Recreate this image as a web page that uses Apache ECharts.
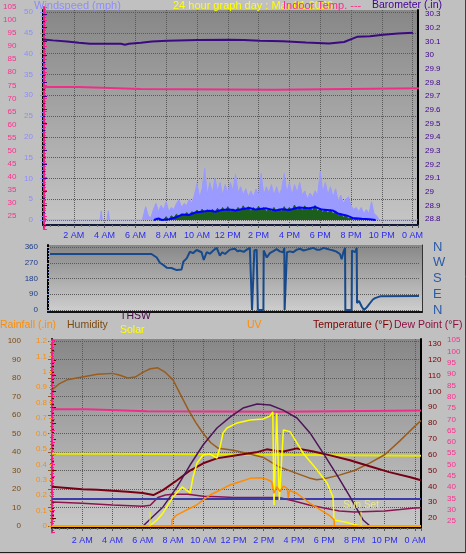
<!DOCTYPE html>
<html><head><meta charset="utf-8">
<script src="https://cdn.jsdelivr.net/npm/echarts/dist/echarts.min.js"></script>
<style>html,body{margin:0;padding:0;background:#c0c0c0;}#c{width:466px;height:554px;}</style>
</head><body><div id="c"></div><script>
// ---------- TOP PANEL DATA (hours since midnight) ----------
const gustEarlyHours = [0, 3.7, 3.78, 3.86, 4.16, 4.24, 4.32, 6.45];
const gustEarlyMph   = [0, 0, 2.2, 0, 0, 2.2, 0, 0];
const gustStart = 6.5, gustStepMin = 10;
const gustMph = [0,3.2,1,0.5,2.5,4,2,3.5,2.5,4.4, 2,3,2.5,4,4.8,3,4,3.5,5,4,
  6,8.8,5.5,7.5,12.4,6,9,6.5,10,7, 9,6,8.5,6.5,9,7,11,6.5,8,6,
  7.5,5.5,7,5.5,7.5,6,11.2,6,8,6.5, 8.5,6,8,6,7.5,11.2,6.5,9,6,8.5,
  6.5,9,6,7,5,6.5,5.5,7,6,11.6, 6.5,9,6,8,5.5,7.5,4.5,6,4,5,
  5.6,3.5,2.5,3,2,3,1.5,2.5,1.5,4.4, 1.5,1,0,0];
const windStart = 7.33, windStepMin = 10;
const windMph = [0.5,0,0,0,0.8,0,1.0,0.5,1.4,0.8,1.5,1.0,1.8,1.2,2.0,1.5,2.4,1.6,2.6,1.8,
  2.5,1.7,2.6,1.8,2.8,2.0,3.0,2.0,3.2,2.0,2.7,2.1,3.0,2.2,3.4,2.4,3.2,2.0,3.0,2.2,
  3.3,2.2,3.0,2.0,2.8,2.0,3.0,2.0,2.7,2.0,3.2,2.1,3.0,2.2,3.6,2.3,3.2,2.2,3.4,2.4,
  3.0,2.2,3.5,2.0,2.8,1.8,2.6,1.6,2.5,1.4,2.2,1.0,1.6,0.6,1.0,0.3,0.6,0,0.4,0,0.3,0];
const avgHours = [7.2,7.5,7.7,8.2,8.6,9.05,9.48,9.9,10.3,10.8,11.2,11.6,12.1,12.5,12.9,13.4,13.8,14.5,15.1,15.5,16.0,16.6,17.3,17.7,18.1,18.8,19.2,19.7,20.1,20.7,21.2,21.6];
const avgMph   = [0,0.4,0,0.2,0.6,1.3,1.2,1.8,2.0,2.2,2.0,2.4,2.5,2.3,2.6,2.9,2.5,2.8,2.3,2.6,2.4,3.0,2.8,3.1,2.5,2.3,1.5,1.1,0.5,0.3,0.2,0];
const baroHours = [0,0.65,1.56,2.34,3.05,5.06,5.32,5.58,6.36,7.08,8.05,10.06,12.08,13.05,14.09,15.58,17.08,18.57,19.55,20.39,21.23,22.08,23.05,24.03];
const baroInHg  = [30.114,30.107,30.099,30.09,30.082,30.082,30.075,30.082,30.09,30.098,30.104,30.11,30.112,30.11,30.105,30.1,30.092,30.085,30.095,30.133,30.138,30.148,30.157,30.162];
const indoorHours = [0,2.3,2.35,4.3,4.35,6.3,6.35,15,15.05,24.4];
const indoorTempF = [74.4,74.4,74.0,74.0,73.6,73.6,73.3,73.3,73.9,73.9];

// ---------- MIDDLE PANEL: wind direction ----------
const dirHours = [0,6.6,6.94,7.15,7.37,7.59,7.9,8.24,8.56,8.67,8.89,9.1,9.3,9.54,9.86,10.0,10.19,10.4,10.62,10.84,11.05,11.2,11.38,11.7,12.03,12.2,12.35,12.6,12.8,13.0,13.12,13.14,13.27,13.29,13.44,13.5,13.52,13.88,13.9,14.1,14.3,14.5,14.74,14.95,15.17,15.24,15.26,15.39,15.41,15.6,15.82,16.05,16.26,16.5,16.7,16.9,17.13,17.35,17.56,17.8,18.0,18.2,18.43,18.6,18.86,18.97,19.08,19.19,19.21,19.62,19.64,19.84,19.95,19.97,20.1,20.2,20.27,20.42,20.6,20.82,21.0,21.14,21.47,24];
const dirDegrees = [320,320,300,270,257,242,240,228,232,276,295,333,325,343,330,286,330,322,340,356,310,330,320,345,350,335,340,332,345,355,352,0,0,340,345,345,0,0,340,300,325,335,348,335,330,355,0,0,330,335,330,345,350,340,345,350,355,345,345,355,350,345,340,335,320,290,330,355,0,0,340,330,355,40,52,45,20,0,15,40,60,68,78,80];
const compass = {0:'N', 90:'E', 180:'S', 270:'W', 360:'N'};

// ---------- BOTTOM PANEL ----------
const humHours = [0,0.5,1,2,3,4,4.5,5,5.5,6,6.5,7,7.5,8,8.5,9,9.5,10,10.5,11,11.5,12,13,14,15,16,17,17.5,18,19,20,21,22,23,23.5,24,24.4];
const humidity = [73.5,77,79,80.5,82,82.5,81.5,80,80.5,83,85,85.5,83,79,71,63,56,50,45,42,41.5,41,39,37,32,29,26,25,25.5,27.5,30,34,38.5,46,50,54,57];
const inHumHours = [0,4.19,4.2,24.4];
const inHumidity = [39,39,38,38];
const tempHours = [0,1,2,3,4,5,6,6.7,7.34,8.27,9.13,10,10.9,12.2,13.5,14.2,14.8,15.3,16.2,17.3,18.4,19.7,21,22.3,23.7,24.4];
const temperatureF = [39.8,39,38.2,37.8,37.3,36.6,35.8,34.5,37.6,43.9,50,54.6,57.7,59.6,61.5,63.4,62.5,62,64,62,59.6,56.5,52.7,49,45.8,43.9];
const dewHours = [0,2,4,6,6.5,7,7.5,8,9,10,11,12,13,14,15,16,17,18,19,20,21,22,23,24,24.4];
const dewPointF = [30.1,29.4,28.2,27.5,28,33,34.5,35,35,33.8,33.5,33,33,33,32.9,30.7,28.2,26.3,24.4,23.8,24.1,24.4,25.3,26.3,26.5];
const freezingF = 32;
const thswHours = [6.02,7.34,8.27,9.13,9.99,10.91,11.77,12.63,13.56,14.42,15.28,16.2,17.06,17.92,18.85,19.71,20.57,21.03];
const thswLevel = [0,101,207,323,429,519,577,625,646,641,614,572,493,387,270,154,32,0];
const solarHours = [0,6.45,6.94,7.34,8.0,8.6,9.13,9.33,9.59,9.99,10.45,10.91,11.11,11.31,11.57,12.24,13.1,13.95,14.42,14.6,14.68,14.86,15.03,15.3,15.74,16.6,17.53,18.19,18.58,18.65,19.38,20.37,24.4];
const solarWm2 = [0,0,32,69,154,207,175,260,334,376,381,360,418,493,519,546,561,567,583,604,111,599,138,508,500,387,297,228,154,32,21,0,0];
const uvHours = [0,7.92,7.93,8.24,8.69,9.13,9.57,10.0,10.45,10.89,11.33,11.77,12.43,13.1,13.76,14.2,14.53,14.68,14.86,15.08,15.3,15.56,15.63,15.7,16.18,16.62,17.06,17.5,17.94,18.39,18.65,18.67,24.4];
const uvIndex = [0,0,0.39,0.71,0.93,1.15,1.36,1.69,2.01,2.22,2.44,2.66,2.87,3.09,3.13,3.03,2.87,2.12,2.55,2.23,2.59,2.44,1.8,2.3,2.12,1.8,1.47,1.21,0.93,0.65,0.4,0,0];
const rainHours = [0,24.4];
const rainIn = [0,0];
const sunEventHours = [6.48,20.44];
const sunEventNames = ['','Sun Set'];
const sunMarkerTop = 74;

// ---------- helpers ----------
const pairs = (hs, vs) => hs.map((h, i) => [h, vs[i]]);
const stepPairs = (start, stepMin, vs) => vs.map((v, i) => [start + i * stepMin / 60, v]);
const FN = "'Liberation Sans Narrow','Liberation Sans',Arial,sans-serif";
const FT = "'Liberation Sans',Arial,sans-serif";
const grad = (a, b) => ({type:'linear', x:0, y:0, x2:0, y2:1, colorStops:[{offset:0,color:a},{offset:1,color:b}]});
function hourLabel(v){
  if (v <= 0 || Math.abs(v - Math.round(v)) > 0.01) return '';
  const h = Math.round(v) % 24;
  if (h === 0) return '0 AM';
  if (h < 12) return h + ' AM';
  if (h === 12) return '12 PM';
  return (h - 12) + ' PM';
}
const TOP_MAX = 24.35, MID_MAX = 24, BOT_MAX = 24.4;
const hidX = (gi, max) => ({type:'value', gridIndex:gi, min:0, max:max, show:false});
const hidY = (gi, min, max) => ({type:'value', gridIndex:gi, min:min, max:max, show:false});
const border = (gi, pos, color, w) => ({type:'value', gridIndex:gi, min:0, max:1, position:pos, show:true,
  axisLine:{show:true, onZero:false, lineStyle:{color:color, width:w}}, axisTick:{show:false}, axisLabel:{show:false}, splitLine:{show:false}});
const dotted = {show:true, lineStyle:{color:'#5a5a5a', type:'dotted', width:1}};

const gustData = pairs(gustEarlyHours, gustEarlyMph).concat(stepPairs(gustStart, gustStepMin, gustMph), [[TOP_MAX, 0]]);

const line = (o) => Object.assign({type:'line', symbol:'none', showSymbol:false, animation:false}, o);

const option = {
  animation:false,
  backgroundColor:'#c0c0c0',
  grid:[
    {left:43, top:10, width:375, height:215, show:true, backgroundColor:grad('#878787','#c6c6c6'), borderWidth:0},
    {left:43, top:12, width:375, height:208},
    {left:43, top:7, width:375, height:222},
    {left:43, top:14, width:375, height:205},
    {left:48, top:245, width:374, height:67, show:true, backgroundColor:grad('#878787','#cfcfcf'), borderWidth:0},
    {left:50, top:247, width:369, height:63},
    {left:52, top:339, width:369, height:189, show:true, backgroundColor:grad('#878787','#c8c8c8'), borderWidth:0},
    {left:52, top:341, width:369, height:185},
    {left:52, top:344, width:369, height:174},
    {left:52, top:340, width:369, height:192.6}
  ],
  xAxis:[
    {type:'value', gridIndex:0, min:0, max:TOP_MAX, interval:2, position:'bottom',
      axisLine:{show:true, onZero:false, lineStyle:{color:'#141a3a', width:2}},
      axisTick:{show:true, length:3, lineStyle:{color:'#555'}},
      minorTick:{show:true, splitNumber:4, length:2, lineStyle:{color:'#777'}},
      axisLabel:{formatter:hourLabel, color:'#2a2af0', fontFamily:FN, fontSize:9, margin:6},
      splitLine:dotted},
    hidX(1, TOP_MAX), hidX(2, TOP_MAX), hidX(3, TOP_MAX),
    border(4, 'bottom', '#111', 2),
    hidX(5, MID_MAX),
    {type:'value', gridIndex:6, min:0, max:BOT_MAX, interval:2, position:'bottom',
      axisLine:{show:true, onZero:false, lineStyle:{color:'#000', width:2}},
      axisTick:{show:true, length:3, lineStyle:{color:'#555'}},
      minorTick:{show:true, splitNumber:4, length:2, lineStyle:{color:'#777'}},
      axisLabel:{formatter:hourLabel, color:'#2a2af0', fontFamily:FN, fontSize:9, margin:8},
      splitLine:dotted},
    hidX(7, BOT_MAX), hidX(8, BOT_MAX), hidX(9, BOT_MAX),
    {type:'value', gridIndex:6, min:0, max:1, position:'top',
      axisLine:{show:true, lineStyle:{color:'#444', type:'dotted', width:1}}, axisTick:{show:false}, axisLabel:{show:false}, splitLine:{show:false}}
  ],
  yAxis:[
    border(0, 'left', '#000', 2),
    border(0, 'right', '#000', 2),
    {type:'value', gridIndex:1, min:0, max:50, interval:5, position:'left',
      axisLine:{show:false}, axisTick:{show:true, length:3, lineStyle:{color:'#9090ff'}},
      minorTick:{show:true, splitNumber:5, length:2, lineStyle:{color:'#9090ff'}},
      axisLabel:{color:'#8c8cff', fontFamily:FN, fontSize:8, margin:10}, splitLine:dotted},
    {type:'value', gridIndex:2, min:20, max:105, interval:5, position:'left', offset:23.5,
      axisLine:{show:true, lineStyle:{color:'#ff1a8c', width:2}},
      axisTick:{show:true, inside:true, length:3, lineStyle:{color:'#ff1a8c'}},
      minorTick:{show:true, splitNumber:5, length:2, lineStyle:{color:'#ff1a8c'}},
      axisLabel:{color:'#ff2d8f', fontFamily:FN, fontSize:8, margin:4, formatter:v => v === 20 ? '' : v},
      splitLine:{show:false}},
    {type:'value', gridIndex:3, min:28.8, max:30.3, interval:0.1, position:'right',
      axisLine:{show:false}, axisTick:{show:true, length:4, lineStyle:{color:'#4b0082'}},
      minorTick:{show:true, splitNumber:2, length:2, lineStyle:{color:'#4b0082'}},
      axisLabel:{color:'#400090', fontFamily:FN, fontSize:8, margin:7, formatter:v => +v.toFixed(1)},
      splitLine:{show:false}},
    border(4, 'left', '#000', 2),
    border(4, 'right', '#333', 1),
    {type:'value', gridIndex:5, min:0, max:360, interval:90, position:'left', offset:2,
      axisLine:{show:false}, axisTick:{show:true, length:3, lineStyle:{color:'#8fa8e8'}},
      minorTick:{show:true, splitNumber:5, length:2, lineStyle:{color:'#8fa8e8'}},
      axisLabel:{color:'#1c3c8c', fontFamily:FN, fontSize:8, margin:10}, splitLine:dotted},
    {type:'value', gridIndex:5, min:0, max:360, interval:90, position:'right',
      axisLine:{show:false}, axisTick:{show:false}, splitLine:{show:false},
      axisLabel:{color:'#2a5aa8', fontFamily:FT, fontSize:13, margin:14, formatter:v => compass[v] || ''}},
    border(6, 'left', '#000', 2),
    border(6, 'right', '#000', 2),
    {type:'value', gridIndex:7, min:0, max:100, interval:10, position:'left', offset:22,
      axisLine:{show:true, lineStyle:{color:'#8b5a2b', width:2}},
      axisTick:{show:true, length:4, lineStyle:{color:'#8b5a2b'}},
      minorTick:{show:true, splitNumber:5, length:2, lineStyle:{color:'#8b5a2b'}},
      axisLabel:{color:'#7b4a12', fontFamily:FN, fontSize:8, margin:9}, splitLine:dotted},
    {type:'value', gridIndex:7, min:0, max:1.2, interval:0.1, position:'left', offset:0,
      axisLine:{show:false}, axisTick:{show:true, length:3, lineStyle:{color:'#ff8c00'}},
      axisLabel:{color:'#ff8c00', fontFamily:FN, fontSize:8, margin:5, formatter:v => +v.toFixed(1)},
      splitLine:{show:false}},
    hidY(7, 0, 12),
    hidY(7, 0, 980),
    {type:'value', gridIndex:8, min:20, max:130, interval:10, position:'right',
      axisLine:{show:false}, axisTick:{show:true, length:4, lineStyle:{color:'#7a0000'}},
      minorTick:{show:true, splitNumber:5, length:2, lineStyle:{color:'#7a0000'}},
      axisLabel:{color:'#7a0000', fontFamily:FN, fontSize:8, margin:7}, splitLine:{show:false}},
    {type:'value', gridIndex:9, min:20, max:105, interval:5, position:'right', offset:22,
      axisLine:{show:true, lineStyle:{color:'#ff1a8c', width:2}},
      axisTick:{show:true, length:3, lineStyle:{color:'#ff1a8c'}},
      minorTick:{show:true, splitNumber:5, length:2, lineStyle:{color:'#ff1a8c'}},
      axisLabel:{color:'#ff2d8f', fontFamily:FN, fontSize:8, margin:4, formatter:v => v === 20 ? '' : v},
      splitLine:{show:false}}
  ],
  series:[
    line({name:'Wind Gust', xAxisIndex:1, yAxisIndex:2, data:gustData, lineStyle:{color:'#9a9aff', width:1}, areaStyle:{color:'#9a9aff', opacity:1}, z:2}),
    line({name:'Wind Speed', xAxisIndex:1, yAxisIndex:2, data:stepPairs(windStart, windStepMin, windMph), lineStyle:{color:'#1c5e1c', width:1}, areaStyle:{color:'#1c5e1c', opacity:1}, z:3}),
    line({name:'Avg Wind', xAxisIndex:1, yAxisIndex:2, data:pairs(avgHours, avgMph), lineStyle:{color:'#0000ff', width:2}, z:4}),
    line({name:'Barometer', xAxisIndex:3, yAxisIndex:4, data:pairs(baroHours, baroInHg), lineStyle:{color:'#3c0a80', width:2}, z:4}),
    line({name:'Indoor Temp', xAxisIndex:2, yAxisIndex:3, data:pairs(indoorHours, indoorTempF), lineStyle:{color:'#ee2f8a', width:2}, z:4}),
    line({name:'Wind Direction', xAxisIndex:5, yAxisIndex:7, data:pairs(dirHours, dirDegrees), lineStyle:{color:'#174a8c', width:2}, z:4}),
    line({name:'Rainfall', xAxisIndex:7, yAxisIndex:12, data:pairs(rainHours, rainIn), lineStyle:{color:'#ff8c00', width:2}, z:3}),
    line({name:'Indoor Humidity', xAxisIndex:7, yAxisIndex:11, data:pairs(inHumHours, inHumidity), lineStyle:{color:'#e8e800', width:2}, z:3}),
    line({name:'Humidity', xAxisIndex:7, yAxisIndex:11, data:pairs(humHours, humidity), lineStyle:{color:'#9a5c1c', width:1.5}, z:4}),
    line({name:'Indoor Temp (bottom)', xAxisIndex:9, yAxisIndex:16, data:pairs(indoorHours, indoorTempF), lineStyle:{color:'#ee2f8a', width:2}, z:3}),
    line({name:'Dew Point', xAxisIndex:8, yAxisIndex:15, data:pairs(dewHours, dewPointF), lineStyle:{color:'#8c1450', width:1.5}, z:4}),
    line({name:'Temperature', xAxisIndex:8, yAxisIndex:15, data:pairs(tempHours, temperatureF), lineStyle:{color:'#780014', width:2}, z:5,
      markLine:{symbol:'none', silent:true, animation:false, label:{show:false}, lineStyle:{color:'#3c3ca8', width:2, type:'solid'}, data:[{yAxis:freezingF}]}}),
    line({name:'THSW', xAxisIndex:7, yAxisIndex:14, data:pairs(thswHours, thswLevel), lineStyle:{color:'#4e1658', width:1.5}, z:5}),
    line({name:'Solar', xAxisIndex:7, yAxisIndex:14, data:pairs(solarHours, solarWm2), lineStyle:{color:'#ffff00', width:1.5}, z:6}),
    line({name:'UV', xAxisIndex:7, yAxisIndex:13, data:pairs(uvHours, uvIndex), lineStyle:{color:'#ff8c00', width:1.5}, z:6}),
  ].concat(sunEventHours.map(h => line({
    xAxisIndex:7, yAxisIndex:14, z:7, lineStyle:{color:'#f0f000', width:1},
    data:[[h, 0], [h, sunMarkerTop]]
  })), [{
    type:'scatter', xAxisIndex:7, yAxisIndex:14, z:20, zlevel:0, animation:false, silent:true,
    symbol:'rect', symbolSize:[1, 1], itemStyle:{color:'#f0f000'},
    label:{show:true, position:'top', distance:1, formatter:p => sunEventNames[p.dataIndex],
      color:'#f2f27a', fontFamily:FT, fontSize:10},
    labelLayout:{hideOverlap:false},
    data:sunEventHours.map(h => [h, sunMarkerTop])
  }]),
  graphic:[
    {type:'text', left:34, top:0, z:100, style:{text:'Windspeed (mph)', fill:'#8c8cff', font:'11px ' + FT}},
    {type:'text', left:173, top:0, z:100, style:{text:'24 hour graph day : Mar 01 2026', fill:'#ffff00', font:'11px ' + FT}},
    {type:'text', left:283, top:0, z:101, style:{text:'Indoor Temp. ---', fill:'#ff2a8a', font:'11px ' + FT}},
    {type:'text', left:372, top:0, z:100, style:{text:'Barometer (.in)', fill:'#400090', font:'10.5px ' + FT}},
    {type:'text', left:0, top:319.5, z:100, style:{text:'Rainfall (.in)', fill:'#ff8c00', font:'10.5px ' + FT}},
    {type:'text', left:67, top:319.5, z:100, style:{text:'Humidity', fill:'#7b4a12', font:'10.5px ' + FT}},
    {type:'text', left:120, top:310.5, z:100, style:{text:'THSW', fill:'#4a0a4a', font:'10.5px ' + FT}},
    {type:'text', left:120, top:324.5, z:100, style:{text:'Solar', fill:'#ffff00', font:'10.5px ' + FT}},
    {type:'text', left:247, top:319.5, z:100, style:{text:'UV', fill:'#ff8c00', font:'10.5px ' + FT}},
    {type:'text', left:313, top:319.5, z:100, style:{text:'Temperature (°F)', fill:'#7a0000', font:'10.5px ' + FT}},
    {type:'text', left:394, top:319.5, z:100, style:{text:'Dew Point (°F)', fill:'#8b1040', font:'10.5px ' + FT}},
    {type:'line', z:100, shape:{x1:0, y1:552.5, x2:466, y2:552.5}, style:{stroke:'#202020', lineWidth:1}},
    {type:'line', z:100, shape:{x1:465.5, y1:0, x2:465.5, y2:553}, style:{stroke:'#404040', lineWidth:1}}
  ]
};
const chart = echarts.init(document.getElementById('c'), null, {renderer:'canvas'});
chart.setOption(option);
</script></body></html>
